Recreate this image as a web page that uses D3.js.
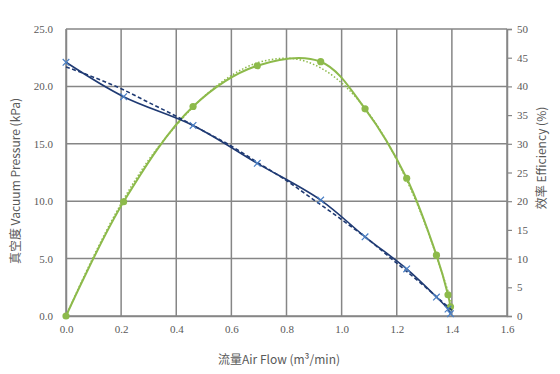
<!DOCTYPE html>
<html lang="zh">

<head>
    <meta charset="UTF-8">
    <title>Vacuum pressure / efficiency</title>
    <style>
        * {
            margin: 0;
            padding: 0;
        }

        html,
        body {
            overflow: hidden;
            background: #fff;
        }
    </style>
</head>

<body>
    <div id="chart"></div>
    <script src="https://cdn.jsdelivr.net/npm/d3@7"></script>
    <script>
        // measured points (air flow m3/min)
        const flow = [0, 0.209, 0.461, 0.694, 0.924, 1.085, 1.236, 1.344, 1.386, 1.395]
        const pressure = [22.1, 19.1, 16.6, 13.3, 10.1, 6.9, 4.1, 1.65, 0.6, 0.2]
        const efficiency = [0, 19.9, 36.5, 43.6, 44.3, 36.1, 24.0, 10.6, 3.7, 1.6]

        // trendlines
        const trendFlow = [0, 0.1, 0.2, 0.3, 0.4, 0.5, 0.6, 0.7, 0.8, 0.9, 1.0, 1.1, 1.2, 1.3, 1.4]
        const pressureTrend = [21.7, 20.8, 19.8, 18.6, 17.4, 16.1, 14.8, 13.3, 11.8, 10.1, 8.4, 6.6, 4.6, 2.6, 0.5]
        const efficiencyTrend = [0, 10.4, 19.6, 27.2, 33.2, 38.2, 41.9, 44.2, 44.9, 43.8, 40.6, 35.2, 27.2, 16.4, 2.2]

        const xTicks = [0, 0.2, 0.4, 0.6, 0.8, 1.0, 1.2, 1.4, 1.6]
        const yTicks = [0, 5, 10, 15, 20, 25]
        const y2Ticks = [0, 5, 10, 15, 20, 25, 30, 35, 40, 45, 50]

        function drawChart() {
            const width = 560
            const height = 374
            const margin = { top: 29, right: 53, bottom: 58, left: 66 }
            const innerW = width - margin.left - margin.right
            const innerH = height - margin.top - margin.bottom

            const gridColor = '#868686'
            const labelColor = '#595959'
            const green = '#8DBA4B'
            const darkBlue = '#1F3A73'
            const markBlue = '#4A7FC4'

            const svg = d3.select('#chart')
                .append('svg')
                .attr('width', width)
                .attr('height', height)

            const g = svg.append('g')
                .attr('transform', `translate(${margin.left}, ${margin.top})`)

            const x = d3.scaleLinear().domain([0, 1.6]).range([0, innerW])
            const y = d3.scaleLinear().domain([0, 25]).range([innerH, 0])
            const y2 = d3.scaleLinear().domain([0, 50]).range([innerH, 0])

            // grid
            g.append('g')
                .selectAll('line')
                .data(xTicks)
                .join('line')
                .attr('x1', d => x(d))
                .attr('x2', d => x(d))
                .attr('y1', 0)
                .attr('y2', innerH)
                .attr('stroke', gridColor)
                .attr('stroke-width', 1.5)

            g.append('g')
                .selectAll('line')
                .data(yTicks)
                .join('line')
                .attr('x1', 0)
                .attr('x2', innerW)
                .attr('y1', d => y(d))
                .attr('y2', d => y(d))
                .attr('stroke', gridColor)
                .attr('stroke-width', 1.5)

            // axes
            const xAxis = g.append('g')
                .attr('transform', `translate(0, ${innerH})`)
                .call(d3.axisBottom(x).tickValues(xTicks).tickFormat(d3.format('.1f')).tickSize(0).tickPadding(9))
            const yAxis = g.append('g')
                .call(d3.axisLeft(y).tickValues(yTicks).tickFormat(d3.format('.1f')).tickSize(0).tickPadding(13))
            const y2Axis = g.append('g')
                .attr('transform', `translate(${innerW}, 0)`)
                .call(d3.axisRight(y2).tickValues(y2Ticks).tickFormat(d3.format('d')).tickSize(5).tickPadding(5))

            ;[xAxis, yAxis, y2Axis].forEach(a => {
                a.attr('font-family', '"Liberation Serif", "DejaVu Serif", serif')
                a.select('.domain').attr('stroke', gridColor).attr('stroke-width', 1.5)
                a.selectAll('line').attr('stroke', gridColor).attr('stroke-width', 1.2)
                a.selectAll('text')
                    .attr('fill', labelColor)
                    .style('font-family', '"Liberation Serif", "DejaVu Serif", serif')
                    .style('font-size', '11px')
            })

            const pts = flow.map((f, i) => ({ f, p: pressure[i], e: efficiency[i] }))
            const trend = trendFlow.map((f, i) => ({ f, p: pressureTrend[i], e: efficiencyTrend[i] }))

            // efficiency
            g.append('path')
                .datum(trend)
                .attr('d', d3.line().x(d => x(d.f)).y(d => y2(d.e)).curve(d3.curveMonotoneX))
                .attr('fill', 'none')
                .attr('stroke', green)
                .attr('stroke-width', 1.5)
                .attr('stroke-dasharray', '1.5,2')

            g.append('path')
                .datum(pts)
                .attr('d', d3.line().x(d => x(d.f)).y(d => y2(d.e)).curve(d3.curveCatmullRom))
                .attr('fill', 'none')
                .attr('stroke', green)
                .attr('stroke-width', 2)

            g.append('g')
                .selectAll('circle')
                .data(pts)
                .join('circle')
                .attr('cx', d => x(d.f))
                .attr('cy', d => y2(d.e))
                .attr('r', 3.6)
                .attr('fill', green)

            // pressure
            g.append('path')
                .datum(trend)
                .attr('d', d3.line().x(d => x(d.f)).y(d => y(d.p)).curve(d3.curveMonotoneX))
                .attr('fill', 'none')
                .attr('stroke', darkBlue)
                .attr('stroke-width', 1.6)
                .attr('stroke-dasharray', '4,2.5')

            g.append('path')
                .datum(pts)
                .attr('d', d3.line().x(d => x(d.f)).y(d => y(d.p)).curve(d3.curveCatmullRom))
                .attr('fill', 'none')
                .attr('stroke', darkBlue)
                .attr('stroke-width', 1.6)

            const s = 3.3
            g.append('g')
                .selectAll('path')
                .data(pts)
                .join('path')
                .attr('transform', d => `translate(${x(d.f)}, ${y(d.p)})`)
                .attr('d', `M${-s},${-s}L${s},${s}M${-s},${s}L${s},${-s}`)
                .attr('stroke', markBlue)
                .attr('stroke-width', 1.2)

            // titles
            const titleFont = '"Noto Sans CJK SC", "Noto Sans", sans-serif'
            svg.append('text')
                .attr('transform', 'translate(20, 181) rotate(-90)')
                .attr('text-anchor', 'middle')
                .attr('fill', labelColor)
                .style('font-family', titleFont)
                .style('font-size', '12px')
                .text('真空度 Vacuum Pressure (kPa)')

            svg.append('text')
                .attr('transform', 'translate(546, 158) rotate(-90)')
                .attr('text-anchor', 'middle')
                .attr('fill', labelColor)
                .style('font-family', titleFont)
                .style('font-size', '12px')
                .text('效率 Efficiency (%)')

            svg.append('text')
                .attr('x', 279)
                .attr('y', 364)
                .attr('text-anchor', 'middle')
                .attr('fill', labelColor)
                .style('font-family', titleFont)
                .style('font-size', '12px')
                .text('流量Air Flow (m³/min)')
        }

        drawChart()
    </script>
</body>

</html>
